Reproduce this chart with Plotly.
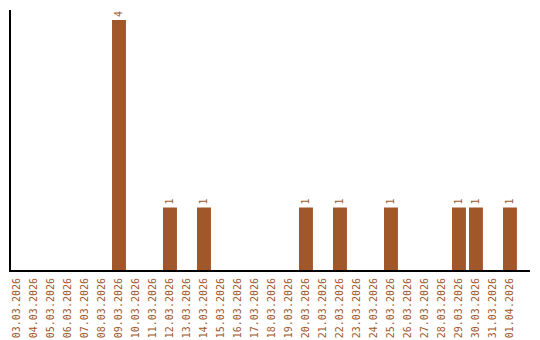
import plotly.graph_objects as go

dates = ["03.03.2026", "04.03.2026", "05.03.2026", "06.03.2026", "07.03.2026",
         "08.03.2026", "09.03.2026", "10.03.2026", "11.03.2026", "12.03.2026",
         "13.03.2026", "14.03.2026", "15.03.2026", "16.03.2026", "17.03.2026",
         "18.03.2026", "19.03.2026", "20.03.2026", "21.03.2026", "22.03.2026",
         "23.03.2026", "24.03.2026", "25.03.2026", "26.03.2026", "27.03.2026",
         "28.03.2026", "29.03.2026", "30.03.2026", "31.03.2026", "01.04.2026"]
counts = [0, 0, 0, 0, 0, 0, 4, 0, 0, 1, 0, 1, 0, 0, 0, 0, 0, 1, 0, 1,
          0, 0, 1, 0, 0, 0, 1, 1, 0, 1]

color = "#A0572A"
labels = [str(v) if v > 0 else "" for v in counts]

fig = go.Figure(go.Bar(
    x=dates, y=counts, marker_color=color, marker_line_width=0,
    text=labels, textposition="outside", textangle=-90, cliponaxis=False,
    textfont=dict(family="DejaVu Sans Mono", size=10, color=color),
))
fig.update_layout(
    width=540, height=340, margin=dict(l=11, r=10, t=10, b=70),
    plot_bgcolor="white", paper_bgcolor="white", showlegend=False,
    bargap=0.18,
    xaxis=dict(type="category", range=[-0.353, 30.18], showline=True, linecolor="black",
               linewidth=2, ticks="", tickangle=-90, showgrid=False, automargin=False,
               ticklabelstandoff=2,
               tickfont=dict(family="DejaVu Sans Mono", size=10, color=color)),
    yaxis=dict(range=[0, 4.16], showline=True, linecolor="black", linewidth=2,
               showticklabels=False, ticks="", showgrid=False, zeroline=False,
               automargin=False),
)
fig.write_html("out.html")
